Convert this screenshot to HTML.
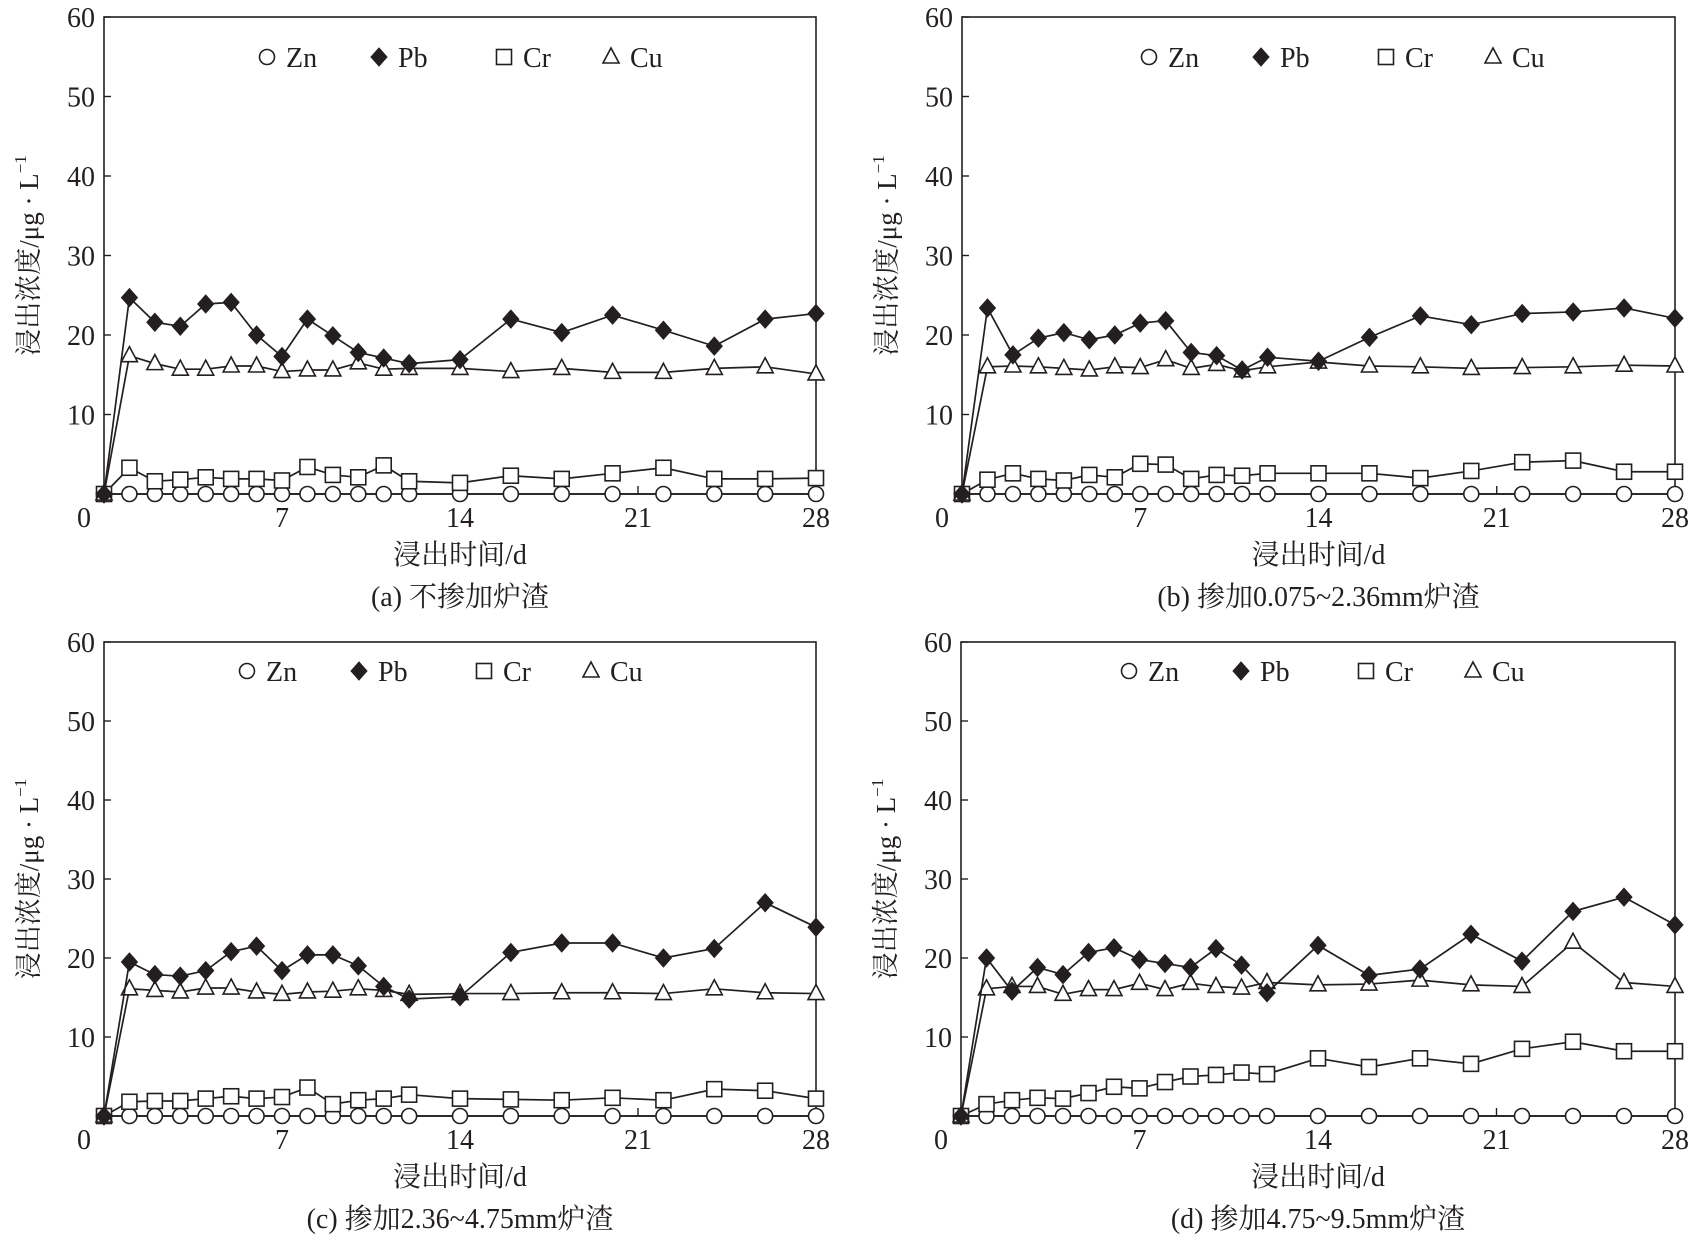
<!DOCTYPE html>
<html><head><meta charset="utf-8"><style>
html,body{margin:0;padding:0;background:#fff;}
svg{display:block;}
text{font-family:"Liberation Serif","Noto Serif CJK SC","Noto Sans CJK SC",serif;fill:#231f20;}
</style></head><body>
<svg id="chart" width="1692" height="1240" viewBox="0 0 1692 1240" xmlns="http://www.w3.org/2000/svg"></svg>
<script>
const days = [0,1,2,3,4,5,6,7,8,9,10,11,12,14,16,18,20,22,24,26,28];
const seriesNames = ["Zn","Pb","Cr","Cu"];
const yTicks = [10,20,30,40,50,60];
const xTicks = [7,14,21,28];
const captions = ["(a) 不掺加炉渣","(b) 掺加0.075~2.36mm炉渣","(c) 掺加2.36~4.75mm炉渣","(d) 掺加4.75~9.5mm炉渣"];

const znA = [0,0,0,0,0,0,0,0,0,0,0,0,0,0,0,0,0,0,0,0,0];
const pbA = [0,24.7,21.6,21.1,23.9,24.1,20,17.3,22,19.9,17.8,17.1,16.4,16.9,22,20.3,22.5,20.6,18.6,22,22.7];
const crA = [0,3.3,1.6,1.8,2.1,1.9,1.9,1.7,3.4,2.4,2.1,3.6,1.6,1.4,2.3,1.9,2.6,3.3,1.9,1.9,2.0];
const cuA = [0,17.4,16.4,15.7,15.7,16.1,16.1,15.4,15.6,15.6,16.5,15.7,15.8,15.8,15.4,15.8,15.3,15.3,15.8,16,15.1];

const znB = [0,0,0,0,0,0,0,0,0,0,0,0,0,0,0,0,0,0,0,0,0];
const pbB = [0,23.4,17.5,19.6,20.3,19.4,20,21.5,21.8,17.8,17.4,15.6,17.2,16.7,19.7,22.4,21.3,22.7,22.9,23.4,22.1];
const crB = [0,1.8,2.6,1.9,1.7,2.4,2.1,3.8,3.7,1.9,2.4,2.3,2.6,2.6,2.6,2.0,2.9,4.0,4.2,2.8,2.8];
const cuB = [0,16.0,16.1,16,15.8,15.6,16,15.9,16.9,15.8,16.3,15.5,16,16.6,16.1,16,15.8,15.9,16,16.2,16.1];

const znC = [0,0,0,0,0,0,0,0,0,0,0,0,0,0,0,0,0,0,0,0,0];
const pbC = [0,19.5,17.9,17.7,18.4,20.8,21.5,18.4,20.4,20.4,19,16.4,14.8,15.1,20.7,21.9,21.9,20,21.2,27,23.9];
const crC = [0,1.8,1.9,1.9,2.2,2.5,2.2,2.4,3.6,1.5,2.0,2.2,2.7,2.2,2.1,2.0,2.3,2.0,3.4,3.2,2.2];
const cuC = [0,16.1,15.9,15.7,16.2,16.2,15.7,15.4,15.7,15.8,16.1,15.9,15.4,15.5,15.5,15.6,15.6,15.5,16.1,15.6,15.5];

const znD = [0,0,0,0,0,0,0,0,0,0,0,0,0,0,0,0,0,0,0,0,0];
const pbD = [0,20,15.8,18.8,17.9,20.7,21.3,19.8,19.3,18.8,21.2,19.1,15.6,21.6,17.8,18.6,23,19.6,25.9,27.7,24.2];
const crD = [0,1.5,2,2.3,2.2,2.9,3.7,3.5,4.3,5,5.2,5.5,5.3,7.3,6.2,7.3,6.6,8.5,9.4,8.2,8.2];
const cuD = [0,16.1,16.4,16.4,15.4,16,16,16.8,16,16.8,16.4,16.2,16.9,16.6,16.7,17.2,16.6,16.4,22,16.9,16.4];

const NS = "http://www.w3.org/2000/svg";
const svg = document.getElementById("chart");
function mk(tag, attrs, parent){
  const e = document.createElementNS(NS, tag);
  for (const k in attrs) e.setAttribute(k, attrs[k]);
  (parent||svg).appendChild(e);
  return e;
}
const panels = [
  {L:104,T:17,R:816,B:494,leg:163,legY:40,data:[znA,pbA,crA,cuA],id:"a"},
  {L:962,T:17,R:1675,B:494,leg:187,legY:40,data:[znB,pbB,crB,cuB],id:"b"},
  {L:104,T:642,R:816,B:1116,leg:143,legY:29,data:[znC,pbC,crC,cuC],id:"c"},
  {L:961,T:642,R:1675,B:1116,leg:168,legY:29,data:[znD,pbD,crD,cuD],id:"d"}
];
const STROKE = "#231f20";
function marker(g, type, x, y){
  let m;
  if (type===0) m = mk("circle",{cx:x,cy:y,r:7.5,fill:"#fff",stroke:STROKE,"stroke-width":1.6},g);
  else if (type===1) m = mk("polygon",{points:`${x},${y-9} ${x+8},${y} ${x},${y+9} ${x-8},${y}`,fill:STROKE,stroke:STROKE,"stroke-width":1},g);
  else if (type===2) m = mk("rect",{x:x-7.5,y:y-7.5,width:15,height:15,fill:"#fff",stroke:STROKE,"stroke-width":1.6},g);
  else m = mk("polygon",{points:`${x},${y-9} ${x+8},${y+6} ${x-8},${y+6}`,fill:"#fff",stroke:STROKE,"stroke-width":1.6},g);
  return m;
}
panels.forEach((p, pi) => {
  const g = mk("g",{});
  
  
  const xs = d => p.L + (p.R - p.L) * d / 28;
  const ys = v => p.B - (p.B - p.T) * v / 60;
  const frame = mk("rect",{x:p.L,y:p.T,width:p.R-p.L,height:p.B-p.T,fill:"none",stroke:STROKE,"stroke-width":1.6},g);
  
  
  yTicks.forEach(t => {
    mk("line",{x1:p.L,x2:p.L+7,y1:ys(t),y2:ys(t),stroke:STROKE,"stroke-width":1.4},g);
    const tx = mk("text",{x:p.L-9,y:ys(t)+10,"text-anchor":"end","font-size":28},g);
    tx.textContent = t;
    
    
  });
  const z = mk("text",{x:p.L-20,y:p.B+33,"text-anchor":"middle","font-size":28},g);
  z.textContent = "0";
  
  
  xTicks.forEach(t => {
    mk("line",{x1:xs(t),x2:xs(t),y1:p.B,y2:p.B-8,stroke:STROKE,"stroke-width":1.4},g);
    const tx = mk("text",{x:xs(t),y:p.B+33,"text-anchor":"middle","font-size":28},g);
    tx.textContent = t;
    
    
  });
  const cx = (p.L + p.R) / 2;
  const xt = mk("text",{x:cx,y:p.B+70,"text-anchor":"middle","font-size":28},g);
  xt.textContent = "浸出时间/d";
  
  
  const cap = mk("text",{x:cx,y:p.B+112,"text-anchor":"middle","font-size":28},g);
  cap.textContent = captions[pi];
  
  
  const ymid = (p.T + p.B) / 2;
  const yt = mk("text",{x:p.L-75,y:ymid,"text-anchor":"middle","font-size":27,transform:`rotate(-90 ${p.L-75} ${ymid})`,dy:9},g);
  
  
  const t1 = mk("tspan",{},yt); t1.textContent = "浸出浓度/μg · L";
  const t2 = mk("tspan",{dy:-12,"font-size":17},yt); t2.textContent = "−1";
  [0,2,3,1].forEach(si => {
    const vals = p.data[si];
    const sg = mk("g",{},g);
    
    
    const pts = days.map((d,i) => xs(d)+","+ys(vals[i])).join(" ");
    const pl = mk("polyline",{points:pts,fill:"none",stroke:STROKE,"stroke-width":1.7},sg);
    
    
    days.forEach((d,i) => {
      const m = marker(sg, si, xs(d), ys(vals[i]));
      
      
    });
  });
  const lg = mk("g",{},g);
  
  
  const offs = [0,112,237,344];
  const ly = p.T + p.legY;
  seriesNames.forEach((n, si) => {
    const e = mk("g",{},lg);
    
    
    const mx = p.L + p.leg + offs[si];
    marker(e, si, mx, ly);
    const t = mk("text",{x:mx+19,y:ly+10,"font-size":28},e);
    t.textContent = n;
  });
});
</script>
</body></html>
